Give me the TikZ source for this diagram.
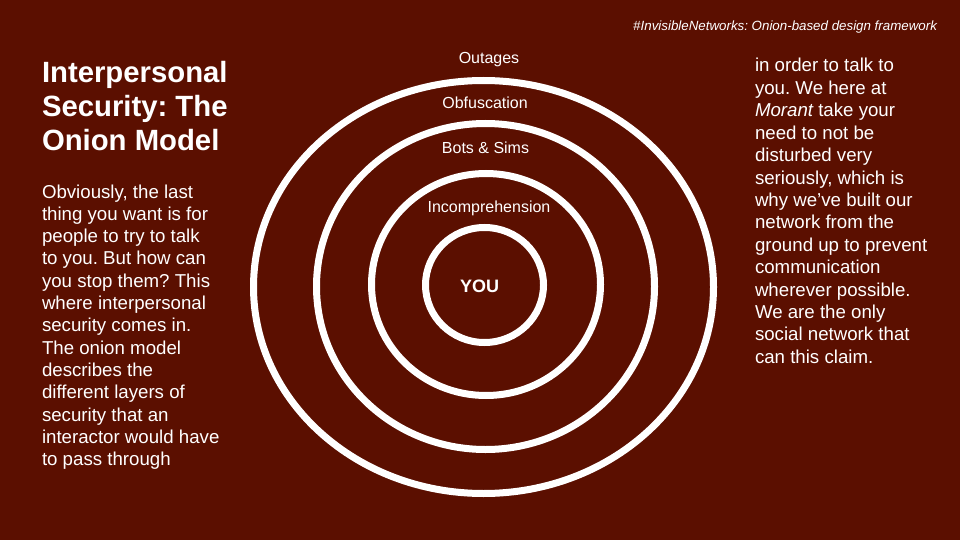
\documentclass[tikz,border=0pt]{standalone}
\usepackage{fontspec}
\setmainfont{Liberation Sans}
\usetikzlibrary{shapes.geometric}
\definecolor{bgred}{HTML}{5B0F00}
\frenchspacing
\tikzset{
  ring/.style={draw=white, line width=7pt, ellipse, inner sep=0pt, outer sep=0pt},
  txt/.style={text=white, inner sep=0pt, outer sep=0pt},
  titletxt/.style={txt, anchor=base west, font=\bfseries\fontsize{29.3}{34}\selectfont},
  bodytxt/.style={txt, anchor=base west, font=\fontsize{18.67}{22.4}\selectfont},
  ringlabel/.style={txt, anchor=base, font=\fontsize{16}{19}\selectfont},
  headtxt/.style={txt, anchor=base east, font=\itshape\fontsize{13.33}{16}\selectfont}
}
\begin{document}
\begin{tikzpicture}[x=1pt, y=-1pt]
\fill[bgred] (0,0) rectangle (960,540);
\useasboundingbox (0,0) rectangle (960,540);

% header
\node[headtxt] (head) at (937,30.5) {\#InvisibleNetworks: Onion-based design framework};

% title
\foreach \t [count=\i] in {{Interpersonal}, {Security: The}, {Onion Model}}
  \node[titletxt] (T\i) at (42, 83+34*\i-34) {\t};

% left body
\foreach \t [count=\i] in {{Obviously, the last}, {thing you want is for}, {people to try to talk}, {to you. But how can}, {you stop them? This}, {where interpersonal}, {security comes in.}, {The onion model}, {describes the}, {different layers of}, {security that an}, {interactor would have}, {to pass through}}
  \node[bodytxt] (L\i) at (42, 198+22.33*\i-22.33) {\t};

% right body
\foreach \t [count=\i] in {{in order to talk to}, {you. We here at}, {{\itshape Morant} take your}, {need to not be}, {disturbed very}, {seriously, which is}, {why we’ve built our}, {network from the}, {ground up to prevent}, {communication}, {wherever possible.}, {We are the only}, {social network that}, {can this claim.}}
  \node[bodytxt] (R\i) at (755, 72+22.4*\i-22.4) {\t};

% rings
\node[ring, minimum width=460pt, minimum height=413pt] (ring1) at (483.5,287) {};
\node[ring, minimum width=338pt, minimum height=326pt] (ring2) at (485.5,286.5) {};
\node[ring, minimum width=229pt, minimum height=222pt] (ring3) at (486,284.5) {};
\node[ring, minimum width=118pt, minimum height=115pt] (ring4) at (484.5,285) {};

% ring labels
\node[ringlabel] (lab1) at (489,63.5) {Outages};
\node[ringlabel] (lab2) at (485,108.3) {Obfuscation};
\node[ringlabel] (lab3) at (485.5,153.3) {Bots \& Sims};
\node[ringlabel] (lab4) at (489,212.7) {Incomprehension};
\node[txt, anchor=base, font=\bfseries\fontsize{18}{21}\selectfont] (you) at (479.7,292.7) {YOU};
\end{tikzpicture}
\end{document}
